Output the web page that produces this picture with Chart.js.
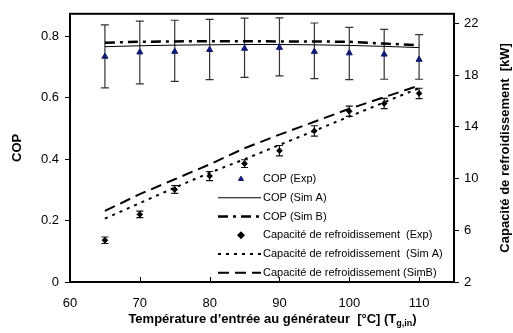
<!DOCTYPE html>
<html>
<head>
<meta charset="utf-8">
<script src="https://cdn.jsdelivr.net/npm/chart.js@4/dist/chart.umd.min.js"></script>
<style>
  html, body { margin: 0; padding: 0; background: #fff; }
  canvas { display: block; }
</style>
</head>
<body>
<canvas id="chart" width="513" height="333"></canvas>
<script>
const temps = [65, 70, 75, 80, 85, 90, 95, 100, 105, 110];

const copExp = [0.734, 0.748, 0.750, 0.756, 0.760, 0.763, 0.750, 0.745, 0.741, 0.724];
const copExpHigh = [0.837, 0.849, 0.852, 0.855, 0.859, 0.860, 0.843, 0.829, 0.822, 0.805];
const copExpLow = [0.632, 0.645, 0.653, 0.659, 0.666, 0.671, 0.662, 0.659, 0.660, 0.660];
const copSimA = [0.766, 0.769, 0.771, 0.772, 0.773, 0.773, 0.772, 0.770, 0.767, 0.763];
const copSimB = [0.779, 0.782, 0.783, 0.784, 0.784, 0.783, 0.783, 0.782, 0.776, 0.771];

const capExp = [5.23, 7.23, 9.15, 10.2, 11.16, 12.16, 13.69, 15.21, 15.81, 16.59];
const capErr = [0.25, 0.25, 0.3, 0.35, 0.3, 0.4, 0.4, 0.4, 0.4, 0.4];
const capSimA = [6.9, 8.1, 9.3, 10.45, 11.5, 12.6, 13.7, 14.8, 15.9, 17.0];
const capSimB = [7.5, 8.8, 9.95, 11.1, 12.35, 13.4, 14.4, 15.4, 16.3, 17.2];

const xTicks = [60, 70, 80, 90, 100, 110];
const copTicks = [0, 0.2, 0.4, 0.6, 0.8];
const capTicks = [2, 6, 10, 14, 18, 22];

const legendLabels = [
  'COP (Exp)',
  'COP (Sim A)',
  'COP (Sim B)',
  'Capacité de refroidissement  (Exp)',
  'Capacité de refroidissement  (Sim A)',
  'Capacité de refroidissement (SimB)'
];

const FONT = '"Liberation Sans", Arial, sans-serif';
const pts = (arr) => temps.map((t, i) => ({ x: t, y: arr[i] }));

// error bars: dataset index -> [low, high]
const errorBars = {
  0: { low: copExpLow, high: copExpHigh, cap: 4, color: '#333' },
  3: { low: capExp.map((v, i) => v - capErr[i]), high: capExp.map((v, i) => v + capErr[i]), cap: 3.5, color: '#111' }
};

const decor = {
  id: 'decor',
  beforeDatasetsDraw(chart) {
    const ctx = chart.ctx;
    const xs = chart.scales.x;
    Object.keys(errorBars).forEach(k => {
      const e = errorBars[k];
      const ys = chart.scales[chart.data.datasets[k].yAxisID];
      ctx.save();
      ctx.strokeStyle = e.color;
      ctx.lineWidth = 1.2;
      temps.forEach((t, i) => {
        const x = xs.getPixelForValue(t);
        const y1 = ys.getPixelForValue(e.high[i]);
        const y2 = ys.getPixelForValue(e.low[i]);
        ctx.beginPath();
        ctx.moveTo(x, y1); ctx.lineTo(x, y2);
        ctx.moveTo(x - e.cap, y1); ctx.lineTo(x + e.cap, y1);
        ctx.moveTo(x - e.cap, y2); ctx.lineTo(x + e.cap, y2);
        ctx.stroke();
      });
      ctx.restore();
    });
  },
  afterDraw(chart) {
    const ctx = chart.ctx;
    const a = chart.chartArea;
    const xs = chart.scales.x;
    ctx.save();
    // frame
    ctx.strokeStyle = '#000';
    ctx.lineWidth = 2;
    ctx.strokeRect(a.left, a.top, a.right - a.left, a.bottom - a.top);
    // inward x ticks
    ctx.lineWidth = 1;
    xTicks.forEach(t => {
      const x = Math.round(xs.getPixelForValue(t)) + 0.5;
      ctx.beginPath();
      ctx.moveTo(x, a.bottom);
      ctx.lineTo(x, a.bottom - 5);
      ctx.stroke();
    });

    // axis titles
    ctx.fillStyle = '#000';
    ctx.font = 'bold 13px ' + FONT;
    ctx.textAlign = 'center';
    ctx.textBaseline = 'middle';
    const midY = (a.top + a.bottom) / 2;
    ctx.save();
    ctx.translate(17, midY);
    ctx.rotate(-Math.PI / 2);
    ctx.fillText('COP', 0, 0);
    ctx.restore();
    ctx.save();
    ctx.translate(505, midY);
    ctx.rotate(-Math.PI / 2);
    ctx.fillText('Capacité de refroidissement  [kW]', 0, 0);
    ctx.restore();

    const main = 'Température d’entrée au générateur  [°C] (T';
    const sub = 'g,in';
    const tail = ')';
    ctx.textAlign = 'left';
    ctx.textBaseline = 'alphabetic';
    ctx.font = 'bold 13px ' + FONT;
    const w1 = ctx.measureText(main).width;
    const w3 = ctx.measureText(tail).width;
    ctx.font = 'bold 9px ' + FONT;
    const w2 = ctx.measureText(sub).width;
    let x0 = 272.5 - (w1 + w2 + w3) / 2;
    const by = 323;
    ctx.font = 'bold 13px ' + FONT;
    ctx.fillText(main, x0, by);
    ctx.font = 'bold 9px ' + FONT;
    ctx.fillText(sub, x0 + w1, by + 3);
    ctx.font = 'bold 13px ' + FONT;
    ctx.fillText(tail, x0 + w1 + w2, by);

    // legend
    ctx.font = '11px ' + FONT;
    ctx.textBaseline = 'middle';
    chart.data.datasets.forEach((ds, i) => {
      const y = 179 + i * 18.75;
      if (ds.showLine === false) {
        ctx.fillStyle = ds.pointBackgroundColor;
        ctx.strokeStyle = ds.pointBorderColor;
        Chart.helpers.drawPoint(ctx, {
          pointStyle: ds.pointStyle, radius: ds.pointRadius - 0.6, rotation: 0, borderWidth: 1
        }, 241, y);
      } else {
        ctx.strokeStyle = ds.borderColor;
        ctx.lineWidth = ds.borderWidth;
        ctx.setLineDash(ds.borderDash || []);
        ctx.beginPath();
        ctx.moveTo(218, y);
        ctx.lineTo(261, y);
        ctx.stroke();
        ctx.setLineDash([]);
      }
      ctx.fillStyle = '#000';
      ctx.fillText(legendLabels[i], 263, y);
    });
    ctx.restore();
  }
};

const lineSet = (arr, axis, width, dash) => ({
  data: pts(arr),
  yAxisID: axis,
  borderColor: '#000',
  borderWidth: width,
  borderDash: dash,
  pointRadius: 0,
  tension: 0,
  fill: false
});

new Chart(document.getElementById('chart'), {
  type: 'line',
  data: {
    datasets: [
      {
        data: pts(copExp), yAxisID: 'y', showLine: false,
        pointStyle: 'triangle', pointRadius: 3.5,
        pointBackgroundColor: '#101c72', pointBorderColor: '#101c72', pointBorderWidth: 1
      },
      lineSet(copSimA, 'y', 1, []),
      lineSet(copSimB, 'y', 2.5, [10, 5, 3, 5]),
      {
        data: pts(capExp), yAxisID: 'y1', showLine: false,
        pointStyle: 'rectRot', pointRadius: 2.8,
        pointBackgroundColor: '#000', pointBorderColor: '#000', pointBorderWidth: 1
      },
      lineSet(capSimA, 'y1', 2, [3, 5]),
      lineSet(capSimB, 'y1', 2, [11, 6])
    ]
  },
  options: {
    responsive: false,
    animation: false,
    layout: { padding: { top: 7, left: 0, right: 0, bottom: 0 } },
    plugins: { legend: { display: false }, tooltip: { enabled: false } },
    scales: {
      x: {
        type: 'linear', min: 60, max: 115,
        afterBuildTicks: s => { s.ticks = xTicks.map(v => ({ value: v })); },
        afterFit: s => { s.height = 51; },
        grid: { drawOnChartArea: false, drawTicks: false },
        border: { display: false },
        ticks: { color: '#000', padding: 14, maxRotation: 0, font: { family: FONT, size: 13 } }
      },
      y: {
        position: 'left', min: 0, max: 0.873,
        afterBuildTicks: s => { s.ticks = copTicks.map(v => ({ value: v })); },
        afterFit: s => { s.width = 70; },
        grid: { drawOnChartArea: false, tickLength: 5, color: '#000' },
        border: { display: false },
        ticks: { color: '#000', padding: 6, font: { family: FONT, size: 13 }, callback: v => String(v) }
      },
      y1: {
        position: 'right', min: 2, max: 22.75,
        afterBuildTicks: s => { s.ticks = capTicks.map(v => ({ value: v })); },
        afterFit: s => { s.width = 59; },
        grid: { drawOnChartArea: false, tickLength: 5, color: '#000' },
        border: { display: false },
        ticks: { color: '#000', padding: 5, font: { family: FONT, size: 13 }, callback: v => String(v) }
      }
    }
  },
  plugins: [decor]
});
</script>
</body>
</html>
